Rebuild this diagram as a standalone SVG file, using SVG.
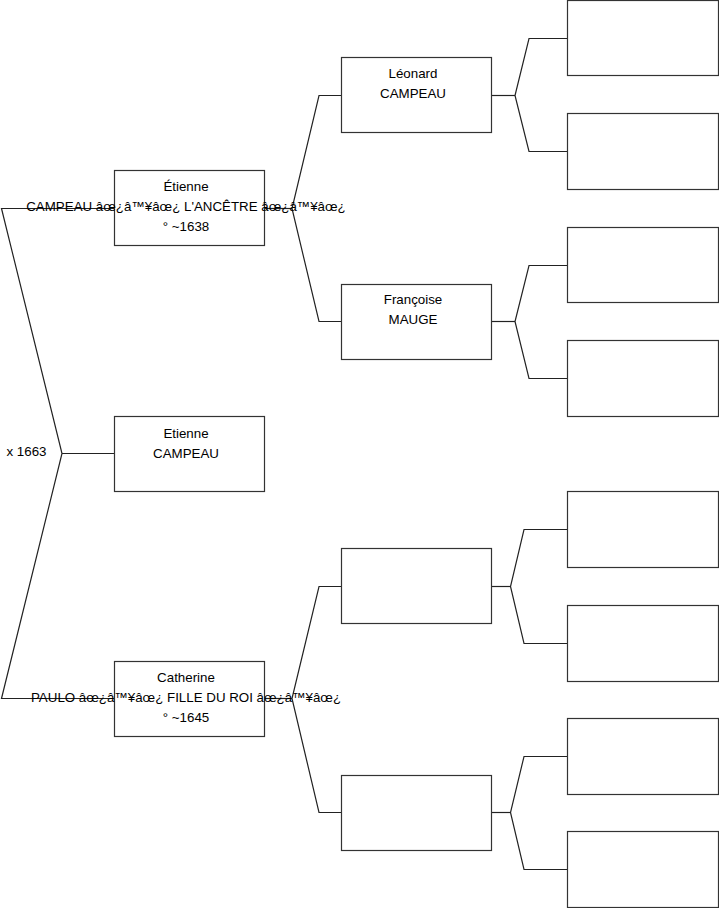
<svg xmlns="http://www.w3.org/2000/svg" width="719" height="908" viewBox="0 0 719 908">
<style>
.box{fill:#fff;stroke:#333;stroke-width:1.2}
.ln{fill:none;stroke:#222;stroke-width:1.2}
text{font-family:"Liberation Sans",Arial,sans-serif;font-size:13.33px;fill:#000;text-anchor:middle}
</style>
<rect width="719" height="908" fill="#fff"/>
<g id="connectors">
<polyline class="ln" points="114,208.5 1.5,208.5 62,453.5 1.5,698.5 114,698.5"/>
<line class="ln" x1="62" y1="453.5" x2="114" y2="453.5"/>
<polyline class="ln" points="341,95.5 319,95.5 292,208.5 319,321.5 341,321.5"/>
<line class="ln" x1="265" y1="208.5" x2="292" y2="208.5"/>
<polyline class="ln" points="341,586.5 319,586.5 292,698.5 319,812.5 341,812.5"/>
<line class="ln" x1="265" y1="698.5" x2="292" y2="698.5"/>
<polyline class="ln" points="567,38.5 529,38.5 515,95.5 529,151.5 567,151.5"/>
<line class="ln" x1="492" y1="95.5" x2="515" y2="95.5"/>
<polyline class="ln" points="567,265.5 529,265.5 515,321.5 529,378.5 567,378.5"/>
<line class="ln" x1="492" y1="321.5" x2="515" y2="321.5"/>
<polyline class="ln" points="567,529.5 524,529.5 510.5,586.5 524,643.5 567,643.5"/>
<line class="ln" x1="492" y1="586.5" x2="510.5" y2="586.5"/>
<polyline class="ln" points="567,756.5 524,756.5 510.5,812.5 524,869.5 567,869.5"/>
<line class="ln" x1="492" y1="812.5" x2="510.5" y2="812.5"/>
</g>
<g id="marriage"><text x="26.5" y="456">x 1663</text></g>
<g id="n-etienne-father">
<rect class="box" x="114.5" y="170.5" width="150" height="75"/>
<text x="186" y="191">Étienne</text>
<text x="186" y="211">CAMPEAU âœ¿â™¥âœ¿ L'ANCÊTRE âœ¿â™¥âœ¿</text>
<text x="186" y="231">° ~1638</text>
</g>
<g id="n-etienne-child">
<rect class="box" x="114.5" y="416.5" width="150" height="75"/>
<text x="186" y="438">Etienne</text>
<text x="186" y="458">CAMPEAU</text>
</g>
<g id="n-catherine">
<rect class="box" x="114.5" y="661.5" width="150" height="75"/>
<text x="186" y="682">Catherine</text>
<text x="186" y="702">PAULO âœ¿â™¥âœ¿ FILLE DU ROI âœ¿â™¥âœ¿</text>
<text x="186" y="722">° ~1645</text>
</g>
<g id="n-leonard">
<rect class="box" x="341.5" y="57.5" width="150" height="75"/>
<text x="413" y="78">Léonard</text>
<text x="413" y="98">CAMPEAU</text>
</g>
<g id="n-francoise">
<rect class="box" x="341.5" y="284.5" width="150" height="75"/>
<text x="413" y="304">Françoise</text>
<text x="413" y="324">MAUGE</text>
</g>
<g id="n-c2-3"><rect class="box" x="341.5" y="548.5" width="150" height="75"/></g>
<g id="n-c2-4"><rect class="box" x="341.5" y="775.5" width="150" height="75"/></g>
<g id="n-c3-1"><rect class="box" x="567.5" y="0.5" width="151" height="75"/></g>
<g id="n-c3-2"><rect class="box" x="567.5" y="113.5" width="151" height="76"/></g>
<g id="n-c3-3"><rect class="box" x="567.5" y="227.5" width="151" height="75"/></g>
<g id="n-c3-4"><rect class="box" x="567.5" y="340.5" width="151" height="76"/></g>
<g id="n-c3-5"><rect class="box" x="567.5" y="491.5" width="151" height="76"/></g>
<g id="n-c3-6"><rect class="box" x="567.5" y="605.5" width="151" height="76"/></g>
<g id="n-c3-7"><rect class="box" x="567.5" y="718.5" width="151" height="76"/></g>
<g id="n-c3-8"><rect class="box" x="567.5" y="831.5" width="151" height="76"/></g>
</svg>
